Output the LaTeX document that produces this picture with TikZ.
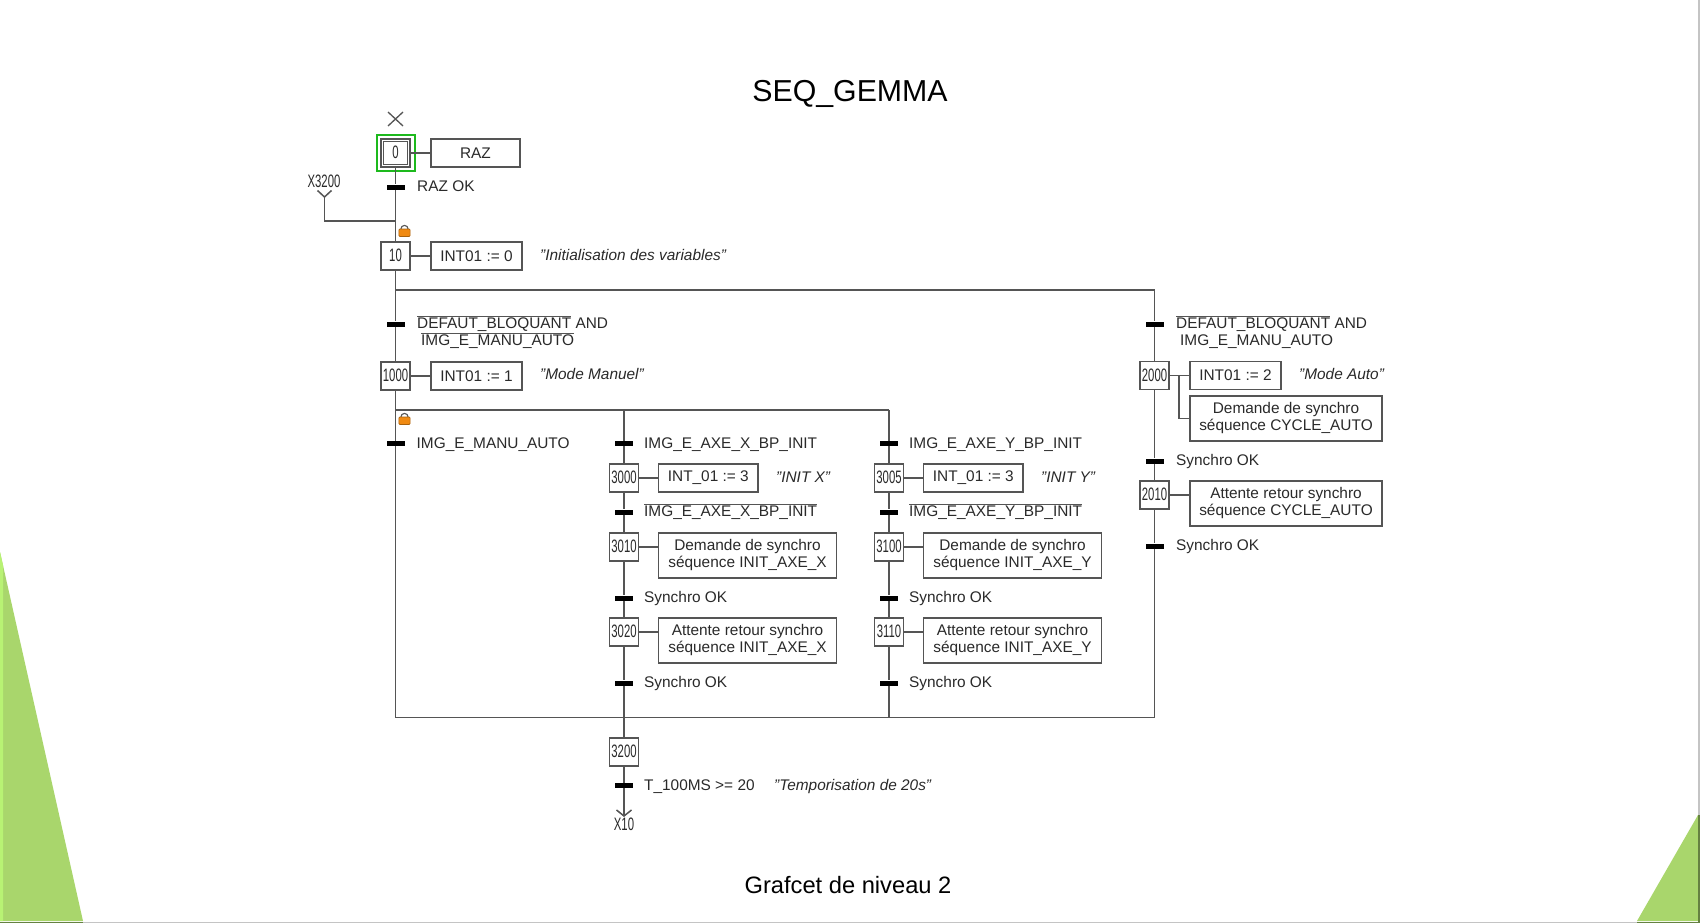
\documentclass[tikz,border=0pt]{standalone}
\usepackage{fontspec}
\setmainfont{Liberation Sans}
\newfontfamily\narrowf[FakeStretch=0.63]{Liberation Sans}
\definecolor{gl}{HTML}{555555}
\definecolor{tx}{HTML}{2A2A2A}
\definecolor{gr}{HTML}{A9D66C}
\definecolor{grl}{HTML}{B8F274}
\definecolor{edge}{HTML}{C4C4C4}
\definecolor{grbox}{HTML}{1DB91D}
\definecolor{lock}{HTML}{F08A12}
\newcommand\ovl[1]{\leavevmode\vbox{\color{gl}\hrule height .9pt\kern .6pt\hbox{\color{tx}#1}}}
\tikzset{
  x=1pt,y=-1pt,
  wire/.style={draw=gl,line width=1.5pt},
  stepbox/.style={draw=gl,line width=1.5pt,fill=white,rectangle,inner sep=0pt,minimum width=29pt,minimum height=28pt,text=tx,text height=13pt,text depth=2pt,font=\narrowf\fontsize{18}{20}\selectfont},
  actbox/.style={draw=gl,line width=1.5pt,fill=white,rectangle,inner sep=0pt,text=tx,align=center,font=\fontsize{15.4}{17}\selectfont},
  act1/.style={actbox,minimum height=28pt},
  act2/.style={actbox,minimum height=45pt},
  trans/.style={fill=black,rectangle,inner sep=0pt,minimum width=18pt,minimum height=5pt},
  lab/.style={anchor=west,inner sep=0pt,text=tx,text height=11pt,text depth=0pt,font=\fontsize{15.4}{17}\selectfont},
  com/.style={lab,font=\fontsize{15.4}{17}\selectfont\itshape},
  nlab/.style={inner sep=0pt,text=tx,text height=13pt,text depth=0pt,font=\narrowf\fontsize{18}{20}\selectfont},
  padlock/.pic={
    \draw[draw=gl,line width=1.1pt] (-3.6,0) arc[start angle=180,end angle=360,radius=3.6];
    \fill[lock,draw=lock!70!black,line width=.6pt,rounded corners=1pt] (-5.6,0) rectangle (5.6,7.5);
  }
}
\begin{document}
\begin{tikzpicture}
\useasboundingbox (0,0) rectangle (1700,923);
\fill[white] (0,0) rectangle (1700,924);
% slide decoration
\fill[gr] (0,552) -- (83,921) -- (0,921) -- cycle;
\fill[grl] (0,552) -- (3,565) -- (3,921) -- (0,921) -- cycle;
\fill[gr] (1698,815) -- (1637,921) -- (1698,921) -- cycle;
\draw[edge,line width=2pt] (0,922.5) -- (1700,922.5);
\draw[edge,line width=2pt] (1699,0) -- (1699,923);
\draw[gr!60!black,line width=2pt] (0,922.5) -- (83,922.5);
\draw[gr!60!black,line width=2pt] (1637,922.5) -- (1699,922.5) -- (1699,815);
% titles
\node[inner sep=0pt,text=black,font=\fontsize{30.3}{34}\selectfont] (title) at (850,93.5) {SEQ\_GEMMA};
\node[inner sep=0pt,text=black,font=\fontsize{23.7}{26}\selectfont] (caption) at (848,885.5) {Grafcet de niveau 2};

\begin{scope}[yshift=1pt]
% junction coordinates
\coordinate (jx) at (395.5,222);
\coordinate (jtl) at (395.5,291);
\coordinate (jtr) at (1154.5,291);
\coordinate (jil) at (395.5,411);
\coordinate (jim) at (624,411);
\coordinate (jir) at (889,411);
\coordinate (jbl) at (395.5,718.5);
\coordinate (jbm) at (624,718.5);
\coordinate (jbr) at (889,718.5);
\coordinate (jbf) at (1154.5,718.5);

% initial step
\draw[draw=gl,line width=1.3pt] (388,113) -- (403,127) (403,113) -- (388,127);
\node[draw=grbox,line width=2pt,rectangle,inner sep=0pt,minimum width=38pt,minimum height=36pt] (s0g) at (395.5,154) {};
\node[stepbox] (s0) at (395.5,154) {};
\node[stepbox,line width=1.3pt,minimum width=24pt,minimum height=23pt] (s0i) at (395.5,154) {0};
\node[act1,minimum width=89pt] (a0) at (475.5,154) {RAZ};
\node[trans] (t0) at (395.5,188) {};
\node[lab] (l0) at (417,187) {RAZ OK};

% X3200 jump
\node[nlab] (x3200) at (324,182) {X3200};
\coordinate (fx) at (324.5,198);
\coordinate (fxa) at (317.5,191.5);
\coordinate (fxb) at (331.5,191.5);
\draw[wire] (fxa) -- (fx) -- (fxb);
\draw[wire] (fx) -- (324.5,222) -- (jx);
\pic at (404.5,230) {padlock};

% step 10
\node[stepbox] (s10) at (395.5,257) {10};
\node[act1,minimum width=91pt] (a10) at (476.5,257) {INT01 := 0};
\node[com] (c10) at (540,256) {"Initialisation des variables"};

% manual mode
\node[trans] (t1) at (395.5,325) {};
\node[lab] (l1a) at (417,324) {\ovl{DEFAUT\_BLOQUANT} AND};
\node[lab] (l1b) at (421,341) {\ovl{IMG\_E\_MANU\_AUTO}};
\node[stepbox] (s1000) at (395.5,377) {1000};
\node[act1,minimum width=91pt] (a1000) at (476.5,377) {INT01 := 1};
\node[com] (c1000) at (540,375) {"Mode Manuel"};
\pic at (404.5,418) {padlock};
\node[trans] (t2) at (395.5,444.5) {};
\node[lab] (l2) at (416.5,443.5) {IMG\_E\_MANU\_AUTO};

% X branch
\node[trans] (tx1) at (624,444.5) {};
\node[lab] (lx1) at (644,443.5) {IMG\_E\_AXE\_X\_BP\_INIT};
\node[stepbox] (s3000) at (624,479) {3000};
\node[act1,minimum width=99.4pt] (a3000) at (708.3,479) {INT\_01 := 3};
\node[com] (c3000) at (776,478) {"INIT X"};
\node[trans] (tx2) at (624,513) {};
\node[lab] (lx2) at (644,512) {\ovl{IMG\_E\_AXE\_X\_BP\_INIT}};
\node[stepbox] (s3010) at (624,548) {3010};
\node[act2,minimum width=177.8pt] (a3010) at (747.5,556.5) {Demande de synchro\\séquence INIT\_AXE\_X};
\node[trans] (tx3) at (624,599) {};
\node[lab] (lx3) at (644,598) {Synchro OK};
\node[stepbox] (s3020) at (624,633) {3020};
\node[act2,minimum width=177.8pt] (a3020) at (747.5,641.5) {Attente retour synchro\\séquence INIT\_AXE\_X};
\node[trans] (tx4) at (624,684) {};
\node[lab] (lx4) at (644,683) {Synchro OK};

% Y branch
\node[trans] (ty1) at (889,444.5) {};
\node[lab] (ly1) at (909,443.5) {IMG\_E\_AXE\_Y\_BP\_INIT};
\node[stepbox] (s3005) at (889,479) {3005};
\node[act1,minimum width=99.4pt] (a3005) at (973.3,479) {INT\_01 := 3};
\node[com] (c3005) at (1041,478) {"INIT Y"};
\node[trans] (ty2) at (889,513) {};
\node[lab] (ly2) at (909,512) {\ovl{IMG\_E\_AXE\_Y\_BP\_INIT}};
\node[stepbox] (s3100) at (889,548) {3100};
\node[act2,minimum width=177.8pt] (a3100) at (1012.5,556.5) {Demande de synchro\\séquence INIT\_AXE\_Y};
\node[trans] (ty3) at (889,599) {};
\node[lab] (ly3) at (909,598) {Synchro OK};
\node[stepbox] (s3110) at (889,633) {3110};
\node[act2,minimum width=177.8pt] (a3110) at (1012.5,641.5) {Attente retour synchro\\séquence INIT\_AXE\_Y};
\node[trans] (ty4) at (889,684) {};
\node[lab] (ly4) at (909,683) {Synchro OK};

% auto branch
\node[trans] (tf1) at (1154.5,325) {};
\node[lab] (lf1a) at (1176,324) {\ovl{DEFAUT\_BLOQUANT} AND};
\node[lab] (lf1b) at (1180,341) {IMG\_E\_MANU\_AUTO};
\node[stepbox] (s2000) at (1154.5,376.5) {2000};
\node[act1,minimum width=91pt] (a2000) at (1235.5,376.5) {INT01 := 2};
\node[com] (c2000) at (1299,375) {"Mode Auto"};
\node[act2,minimum width=192pt] (a2000b) at (1286,419.5) {Demande de synchro\\séquence CYCLE\_AUTO};
\node[trans] (tf2) at (1154.5,462) {};
\node[lab] (lf2) at (1176,461) {Synchro OK};
\node[stepbox] (s2010) at (1154.5,496) {2010};
\node[act2,minimum width=192pt] (a2010) at (1286,504.5) {Attente retour synchro\\séquence CYCLE\_AUTO};
\node[trans] (tf3) at (1154.5,547) {};
\node[lab] (lf3) at (1176,546) {Synchro OK};

% exit
\node[stepbox] (s3200) at (624,753) {3200};
\node[trans] (t3200) at (624,786.7) {};
\node[lab] (l3200) at (644,786) {T\_100MS >= 20};
\node[com] (c3200) at (774,786) {"Temporisation de 20s"};
\coordinate (fy) at (624,817);
\coordinate (fya) at (616.5,811);
\coordinate (fyb) at (631.5,811);
\node[nlab] (x10) at (624,825) {X10};

% vertical links
\draw[wire] (s0) -- (t0);
\draw[wire] (t0) -- (jx) -- (s10);
\draw[wire] (s10) -- (jtl) -- (t1);
\draw[wire] (t1) -- (s1000);
\draw[wire] (s1000) -- (jil) -- (t2);
\draw[wire] (t2) -- (jbl);
\draw[wire] (jtl) -- (jtr) -- (tf1);
\draw[wire] (tf1) -- (s2000);
\draw[wire] (s2000) -- (tf2);
\draw[wire] (tf2) -- (s2010);
\draw[wire] (s2010) -- (tf3);
\draw[wire] (tf3) -- (jbf) -- (jbl);
\draw[wire] (jil) -- (jir);
\draw[wire] (jim) -- (tx1);
\draw[wire] (tx1) -- (s3000);
\draw[wire] (s3000) -- (tx2);
\draw[wire] (tx2) -- (s3010);
\draw[wire] (s3010) -- (tx3);
\draw[wire] (tx3) -- (s3020);
\draw[wire] (s3020) -- (tx4);
\draw[wire] (tx4) -- (jbm) -- (s3200);
\draw[wire] (s3200) -- (t3200);
\draw[wire] (t3200) -- (fy);
\draw[wire] (fya) -- (fy) -- (fyb);
\draw[wire] (jir) -- (ty1);
\draw[wire] (ty1) -- (s3005);
\draw[wire] (s3005) -- (ty2);
\draw[wire] (ty2) -- (s3100);
\draw[wire] (s3100) -- (ty3);
\draw[wire] (ty3) -- (s3110);
\draw[wire] (s3110) -- (ty4);
\draw[wire] (ty4) -- (jbr);

% action links
\draw[wire] (s0) -- (a0);
\draw[wire] (s10) -- (a10);
\draw[wire] (s1000) -- (a1000);
\draw[wire] (s3000) -- (a3000);
\draw[wire] (s3005) -- (a3005);
\draw[wire] (s3010.east) -- (s3010.east -| a3010.west);
\draw[wire] (s3020.east) -- (s3020.east -| a3020.west);
\draw[wire] (s3100.east) -- (s3100.east -| a3100.west);
\draw[wire] (s3110.east) -- (s3110.east -| a3110.west);
\draw[wire] (s2000) -- (a2000);
\draw[wire] (s2010.east) -- (s2010.east -| a2010.west);
\draw[wire] (1179,376.5) |- (a2000b.west);
\end{scope}
\end{tikzpicture}
\end{document}
